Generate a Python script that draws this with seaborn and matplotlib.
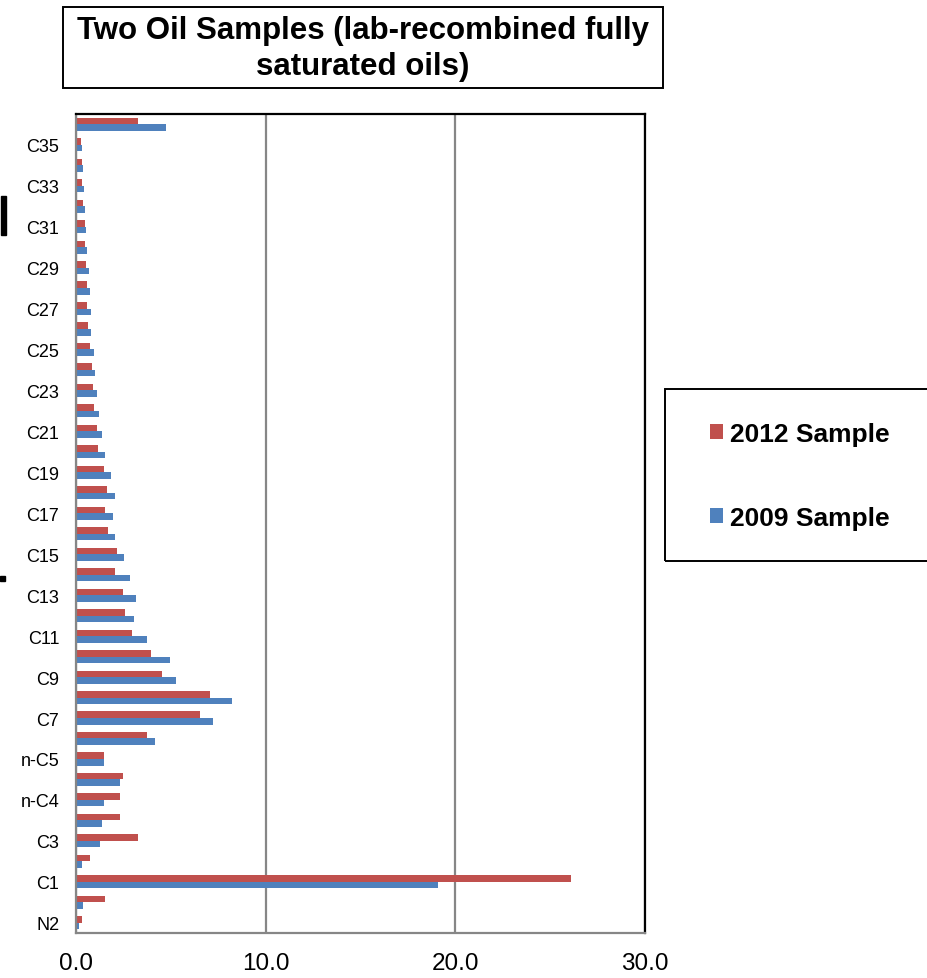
import matplotlib
matplotlib.use("Agg")
import matplotlib.pyplot as plt
from matplotlib.patches import Rectangle, Patch
import seaborn as sns
import pandas as pd

# Components from bottom of the chart (N2) to top (C36+)
components = [
    "N2", "CO2", "C1", "C2", "C3", "i-C4", "n-C4", "i-C5", "n-C5", "C6",
    "C7", "C8", "C9", "C10", "C11", "C12", "C13", "C14", "C15", "C16",
    "C17", "C18", "C19", "C20", "C21", "C22", "C23", "C24", "C25", "C26",
    "C27", "C28", "C29", "C30", "C31", "C32", "C33", "C34", "C35", "C36+",
]

# Mole percent of each component
sample_2012 = [
    0.32, 1.55, 26.1, 0.76, 3.27, 2.31, 2.31, 2.49, 1.50, 3.76,
    6.54, 7.08, 4.52, 3.96, 2.95, 2.58, 2.47, 2.08, 2.14, 1.68,
    1.54, 1.63, 1.50, 1.17, 1.10, 0.97, 0.90, 0.83, 0.72, 0.65,
    0.60, 0.57, 0.53, 0.48, 0.46, 0.35, 0.34, 0.30, 0.25, 3.27,
]
sample_2009 = [
    0.17, 0.38, 19.08, 0.32, 1.27, 1.38, 1.48, 2.30, 1.45, 4.17,
    7.21, 8.23, 5.28, 4.95, 3.75, 3.06, 3.14, 2.86, 2.51, 2.08,
    1.94, 2.03, 1.86, 1.52, 1.38, 1.22, 1.13, 1.02, 0.94, 0.78,
    0.80, 0.74, 0.69, 0.57, 0.53, 0.46, 0.41, 0.37, 0.32, 4.75,
]

series_names = ["2012 Sample", "2009 Sample"]
colors = ["#C0504D", "#4F81BD"]
x_ticks = [0, 10, 20, 30]

sns.set_style("white")
plt.rcParams["font.family"] = ["Liberation Sans", "DejaVu Sans"]
plt.rcParams["text.color"] = "black"
plt.rcParams["xtick.labelcolor"] = "black"
plt.rcParams["ytick.labelcolor"] = "black"

df = pd.DataFrame({
    "Component": components * 2,
    "Mole %": sample_2012 + sample_2009,
    "Sample": [series_names[0]] * len(components) + [series_names[1]] * len(components),
})

W, H = 928, 979
fig = plt.figure(figsize=(W / 100, H / 100), dpi=100)
ax = fig.add_axes([76 / W, 1 - 934 / H, (645 - 76) / W, (934 - 115) / H])

order = components[::-1]
sns.barplot(
    data=df, x="Mole %", y="Component", hue="Sample",
    order=order, hue_order=series_names, palette=colors,
    width=0.64, orient="h", ax=ax, legend=False,
    edgecolor="none", saturation=1,
)

ax.set_xlim(0, 30)
ax.set_ylim(len(order) - 0.5, -0.5)
ax.set_xticks(x_ticks)
ax.set_xticklabels([f"{t:.1f}" for t in x_ticks], fontsize=17.5)
ax.set_yticks(range(len(order)))
ax.set_yticklabels(
    [c if (len(order) - 1 - i) % 2 == 0 else "" for i, c in enumerate(order)],
    fontsize=13,
)
ax.tick_params(axis="both", length=0)
ax.tick_params(axis="y", pad=12)
ax.tick_params(axis="x", pad=14)
ax.set_xlabel("")
ax.set_ylabel("")

ax.xaxis.grid(True, color="#868686", linewidth=1.6)
ax.set_axisbelow(True)
for side in ("left", "bottom"):
    ax.spines[side].set_color("#868686")
    ax.spines[side].set_linewidth(1.6)
for side in ("top", "right"):
    ax.spines[side].set_color("black")
    ax.spines[side].set_linewidth(1.6)

# Title in a framed box
fig.patches.append(Rectangle((63 / W, 1 - 89 / H), 600 / W, 81 / H,
                             transform=fig.transFigure, fill=False,
                             edgecolor="black", linewidth=1.4))
fig.text(363 / W, 1 - 49 / H, "Two Oil Samples (lab-recombined fully\nsaturated oils)",
         ha="center", va="center", fontsize=22.5, fontweight="bold",
         linespacing=1.3)

# Legend in a framed box at the right
fig.patches.append(Rectangle((665 / W, 1 - 562 / H), 300 / W, 172 / H,
                             transform=fig.transFigure, fill=False,
                             edgecolor="black", linewidth=1.4))
handles = [Patch(facecolor=c, edgecolor="none") for c in colors]
fig.legend(handles, series_names, loc="center left",
           bbox_to_anchor=(686 / W, 1 - 477 / H), frameon=False,
           prop={"size": 19, "weight": "bold"}, handlelength=0.5,
           handleheight=0.5, handletextpad=0.25, labelspacing=2.25)

# Small black marks at the left edge
fig.patches.append(Rectangle((1 / W, 1 - 236 / H), 5 / W, 39 / H,
                             transform=fig.transFigure, color="black"))
fig.patches.append(Rectangle((0 / W, 1 - 582 / H), 5 / W, 5 / H,
                             transform=fig.transFigure, color="black"))

fig.savefig("out.png", dpi=100)
